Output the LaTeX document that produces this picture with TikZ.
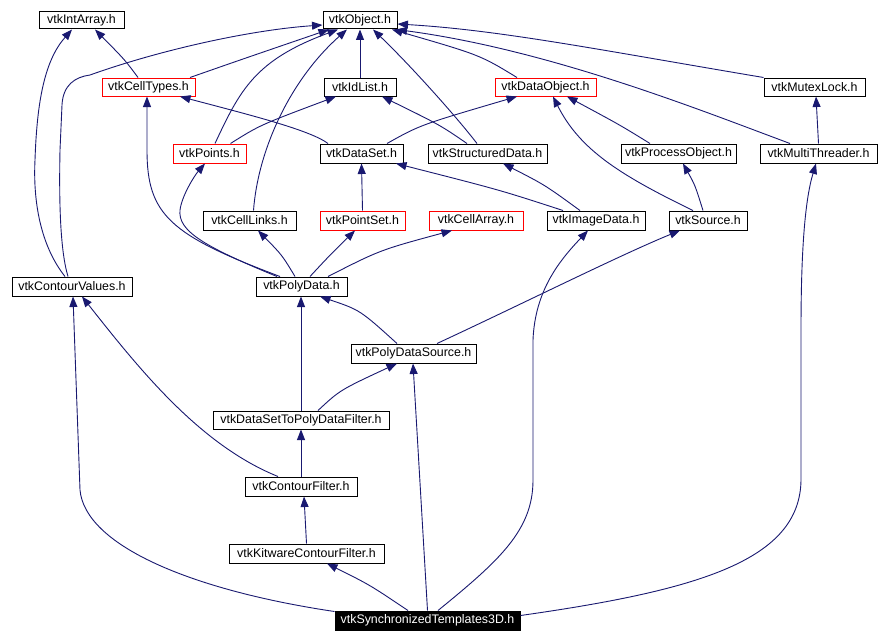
\documentclass[tikz,border=0pt]{standalone}
\usepackage{fontspec}
\setmainfont{Liberation Sans}
\usetikzlibrary{arrows.meta,calc}
\definecolor{edgec}{RGB}{25,25,112}
\begin{document}
\begin{tikzpicture}[x=1pt,y=-1pt,
  box/.style={draw=black,line width=1pt,fill=white,inner sep=0pt,minimum height=19pt,font=\fontsize{12.4}{14}\selectfont},
  redbox/.style={box,draw=red},
  blackbox/.style={box,fill=black,text=white},
  edge/.style={draw=edgec,line width=0.9pt,-{Triangle[length=10.5pt,width=8pt]}}]
\useasboundingbox[fill=white] (0,0) rectangle (880,642);
% nodes
\node[box,minimum width=85pt,minimum height=17pt] (intarray) at (81.5,20.5) {vtkIntArray.h};
\node[box,minimum width=74pt,minimum height=17pt] (object) at (360,20.5) {vtkObject.h};
\node[redbox,minimum width=93pt,minimum height=18pt] (celltypes) at (148.5,87) {vtkCellTypes.h};
\node[box,minimum width=72pt,minimum height=18pt] (idlist) at (360,87) {vtkIdList.h};
\node[redbox,minimum width=101pt,minimum height=18pt] (dataobject) at (545.5,87) {vtkDataObject.h};
\node[box,minimum width=101pt,minimum height=18pt] (mutexlock) at (814.5,87) {vtkMutexLock.h};
\node[redbox,minimum width=73pt] (points) at (209.5,153.5) {vtkPoints.h};
\node[box,minimum width=83pt] (dataset) at (361.5,153.5) {vtkDataSet.h};
\node[box,minimum width=119pt] (structured) at (487.5,153.5) {vtkStructuredData.h};
\node[box,minimum width=115pt] (processobject) at (678.5,153.5) {vtkProcessObject.h};
\node[box,minimum width=117pt] (multithreader) at (818.5,153.5) {vtkMultiThreader.h};
\node[box,minimum width=93pt] (celllinks) at (249.5,220.5) {vtkCellLinks.h};
\node[redbox,minimum width=85pt] (pointset) at (362.5,220.5) {vtkPointSet.h};
\node[redbox,minimum width=94pt] (cellarray) at (476,220.5) {vtkCellArray.h};
\node[box,minimum width=98pt] (imagedata) at (596,220.5) {vtkImageData.h};
\node[box,minimum width=78pt] (source) at (708,220.5) {vtkSource.h};
\node[box,minimum width=120pt] (contourvalues) at (72,286.5) {vtkContourValues.h};
\node[box,minimum width=91pt] (polydata) at (301.5,286.5) {vtkPolyData.h};
\node[box,minimum width=125pt] (polydatasource) at (413.5,353.5) {vtkPolyDataSource.h};
\node[box,minimum width=176pt,minimum height=18pt] (dstopdf) at (301,420) {vtkDataSetToPolyDataFilter.h};
\node[box,minimum width=112pt] (contourfilter) at (301,486.5) {vtkContourFilter.h};
\node[box,minimum width=155pt] (kitware) at (306.5,553.5) {vtkKitwareContourFilter.h};
\node[blackbox,minimum width=185pt] (synch) at (427.5,620.5) {vtkSynchronizedTemplates3D.h};
% edges
\draw[edge] ($(contourvalues.north)+(-7,0)$) .. controls (40,245) and (33,200) .. (35,160) .. controls (37,100) and (45,60) .. ($(intarray.south)+(-9.5,0)$);
\draw[edge] ($(contourvalues.north)+(-4,0)$) .. controls (60,250) and (59,200) .. (60,150) -- (62,105) .. controls (63,85) and (75,77) .. (90,75) .. controls (160,50) and (250,30) .. ($(object.west)+(0,4.5)$);
\draw[edge] ($(celltypes.north)+(-10.5,0)$) .. controls (125,60) .. ($(intarray.south)+(13.5,0)$);
\draw[edge] ($(celltypes.north)+(41.5,0)$) .. controls (240,60) .. ($(object.south)+(-31,0)$);
\draw[edge] ($(points.north)+(5.5,0)$) .. controls (240,90) and (255,60) .. ($(object.south)+(-22,0)$);
\draw[edge] ($(celllinks.north)+(4,0)$) .. controls (258,150) and (290,80) .. ($(object.south)+(-13,0)$);
\draw[edge] (idlist.north) -- (object.south);
\draw[edge] ($(structured.north)+(-10.5,0)$) .. controls (455,115) and (410,65) .. ($(object.south)+(13,0)$);
\draw[edge] ($(dataobject.north)+(-28.5,0)$) .. controls (480,55) .. ($(object.south)+(32,0)$);
\draw[edge] (mutexlock.north west) .. controls (600,50) and (500,30) .. ($(object.east)+(0,3.5)$);
\draw[edge] ($(multithreader.north)+(-28.5,0)$) .. controls (700,110) and (550,50) .. ($(object.south east)+(-1,0)$);
\draw[edge] ($(points.north)+(21,0)$) .. controls (260,125) .. ($(idlist.south)+(-24,0)$);
\draw[edge] ($(dataset.north)+(-33.5,0)$) .. controls (310,130) and (250,115) .. ($(celltypes.south)+(31.5,0)$);
\draw[edge] ($(structured.north)+(-20.5,0)$) .. controls (440,125) .. ($(idlist.south)+(22,0)$);
\draw[edge] ($(dataset.north)+(25.5,0)$) .. controls (420,125) .. ($(dataobject.south)+(-28.5,0)$);
\draw[edge] ($(processobject.north)+(-28.5,0)$) .. controls (620,125) .. ($(dataobject.south)+(21.5,0)$);
\draw[edge] ($(source.north)+(-15,0)$) .. controls (620,175) and (580,150) .. ($(dataobject.south)+(7.5,0)$);
\draw[edge] (multithreader.north) -- ($(mutexlock.south)+(1.5,0)$);
\draw[edge] (pointset.north) -- (dataset.south);
\draw[edge] ($(imagedata.north)+(-33,0)$) .. controls (500,190) .. ($(dataset.south)+(34.5,0)$);
\draw[edge] ($(imagedata.north)+(-16,0)$) .. controls (545,185) .. ($(structured.south)+(15.5,0)$);
\draw[edge] ($(source.north)+(-5,0)$) .. controls (695,185) .. ($(processobject.south)+(4.5,0)$);
\draw[edge] ($(polydata.north)+(-21.5,0)$) .. controls (170,235) and (147,215) .. (147,150) -- ($(celltypes.south)+(-1.5,0)$);
\draw[edge] ($(polydata.north)+(-24.5,0)$) .. controls (200,245) and (178,230) .. (180,210) .. controls (182,195) and (195,175) .. ($(points.south)+(-4.5,0)$);
\draw[edge] ($(polydata.north)+(-6.5,0)$) .. controls (282,255) .. ($(celllinks.south)+(8.5,0)$);
\draw[edge] ($(polydata.north)+(8.5,0)$) .. controls (330,255) .. ($(pointset.south)+(-7.5,0)$);
\draw[edge] ($(polydata.north)+(26.5,0)$) .. controls (380,250) .. ($(cellarray.south)+(-24,0)$);
\draw[edge] ($(polydatasource.north)+(-16.5,0)$) .. controls (360,310) .. ($(polydata.south)+(18.5,0)$);
\draw[edge] ($(polydatasource.north)+(23.5,0)$) .. controls (520,305) and (620,255) .. ($(source.south)+(-28,0)$);
\draw[edge] (dstopdf.north) -- (dstopdf.north |- polydata.south);
\draw[edge] ($(dstopdf.north)+(17,0)$) .. controls (340,390) .. ($(polydatasource.south)+(-16.5,0)$);
\draw[edge] (contourfilter.north) -- (dstopdf.south);
\draw[edge] ($(contourfilter.north)+(-23,0)$) .. controls (200,445) and (140,370) .. ($(contourvalues.south)+(10,0)$);
\draw[edge] (kitware.north) -- ($(contourfilter.south)+(3,0)$);
\draw[edge] ($(synch.north)+(-19.5,0)$) .. controls (370,585) .. ($(kitware.south)+(20.5,0)$);
\draw[edge] ($(synch.north west)+(0,1)$) .. controls (190,590) and (85,545) .. (80,490) -- ($(contourvalues.south)+(1,0)$);
\draw[edge] (synch.north) -- ($(polydatasource.south)+(-0.5,0)$);
\draw[edge] ($(synch.north)+(10.5,0)$) .. controls (500,560) and (533,530) .. (533,480) -- (533,340) .. controls (535,290) and (560,260) .. ($(imagedata.south)+(-8,0)$);
\draw[edge] ($(synch.east)+(0,-5)$) .. controls (700,590) and (800,560) .. (801,480) -- (801,330) .. controls (801,250) and (805,200) .. ($(multithreader.south)+(-2.5,0)$);
\end{tikzpicture}
\end{document}
